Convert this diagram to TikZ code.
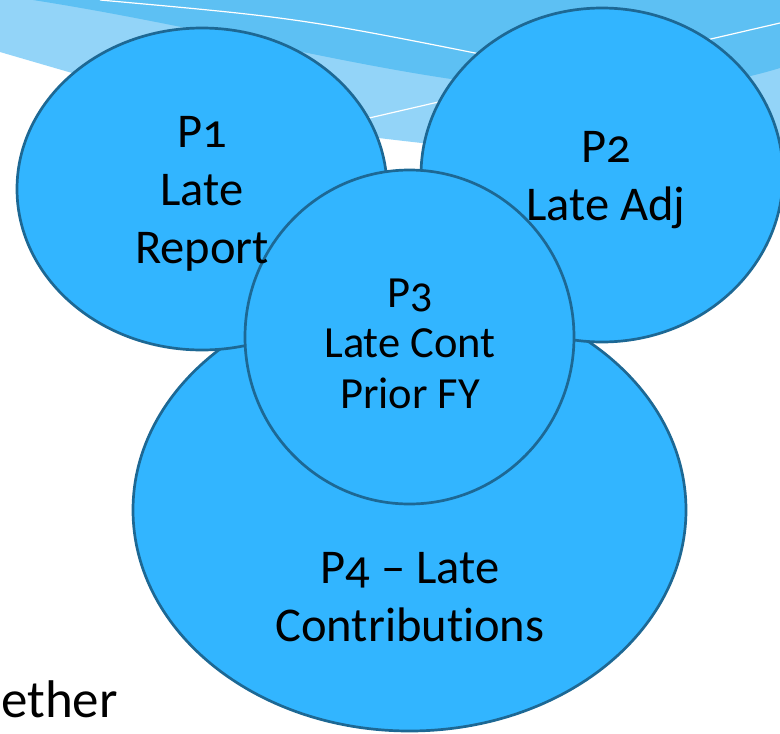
\documentclass[tikz,border=0pt]{standalone}
\usepackage{fontspec}
\setmainfont{Carlito}[Numbers=OldStyle, Ligatures=NoCommon]
\definecolor{bubble}{RGB}{50,181,255}
\definecolor{rim}{RGB}{29,104,148}
\definecolor{swmid}{RGB}{93,192,243}
\definecolor{swlight}{RGB}{147,212,248}
\tikzset{
  bubbleshape/.style={ellipse, draw=rim, line width=2.7pt, fill=bubble, inner sep=0pt},
  bigtext/.style={align=center, inner sep=0pt, font=\fontsize{48.5}{58}\selectfont},
  smalltext/.style={align=center, inner sep=0pt, font=\fontsize{44.5}{50.5}\selectfont},
}
\usetikzlibrary{shapes.geometric}
\begin{document}
\begin{tikzpicture}[x=1pt,y=-1pt]
\useasboundingbox (0,0) rectangle (780,734);
\clip (0,0) rectangle (780,734);
% background swoosh
\fill[swlight] (0,0) -- (0,52) .. controls (250,125) .. (560,158) -- (780,158) -- (780,0) -- cycle;
\fill[swmid] (33,0) .. controls (320,45) and (560,135) .. (780,68) -- (780,0) -- cycle;
\draw[white, line width=1.2pt] (100,0) .. controls (300,18) .. (520,62);
\draw[white, line width=1.2pt] (300,134) -- (780,23);
% bubbles
\node[bubbleshape, minimum width=553pt, minimum height=442pt] (p4) at (409.5,510) {};
\node[bubbleshape, minimum width=370pt, minimum height=322pt] (p1) at (202,189) {};
\node[bubbleshape, minimum width=362pt, minimum height=334pt] (p2) at (602,175) {};
\node[bubbleshape, minimum width=329pt, minimum height=334pt] (p3) at (409.5,337) {};
% labels
\node[bigtext] (t1) at (202,193.5) {P1\\Late\\Report};
\node[bigtext] (t2) at (606,180.5) {P2\\Late Adj};
\node[smalltext] (t3) at (410,343.5) {P3\\Late Cont\\Prior FY};
\node[bigtext] (t4) at (410,597.5) {P4 – Late\\Contributions};
\node[inner sep=0pt, anchor=base east, font=\fontsize{53}{60}\selectfont] (t5) at (118,717) {ether};
\end{tikzpicture}
\end{document}
